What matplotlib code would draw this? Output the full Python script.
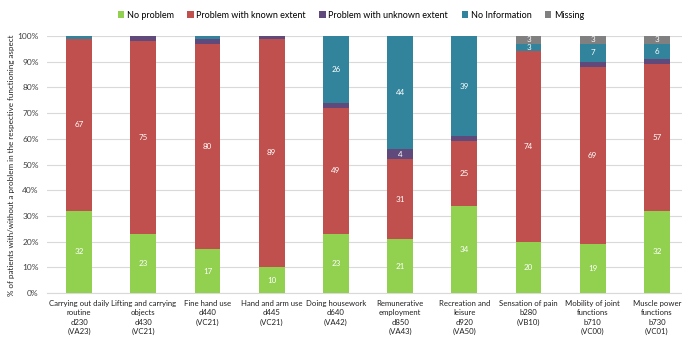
import matplotlib
matplotlib.use("Agg")
import matplotlib.pyplot as plt
import numpy as np

plt.rcParams['font.family'] = ['Lato', 'DejaVu Sans']

categories = [
    "Carrying out daily\nroutine\nd230\n(VA23)",
    "Lifting and carrying\nobjects\nd430\n(VC21)",
    "Fine hand use\nd440\n(VC21)",
    "Hand and arm use\nd445\n(VC21)",
    "Doing housework\nd640\n(VA42)",
    "Remunerative\nemployment\nd850\n(VA43)",
    "Recreation and\nleisure\nd920\n(VA50)",
    "Sensation of pain\nb280\n(VB10)",
    "Mobility of joint\nfunctions\nb710\n(VC00)",
    "Muscle power\nfunctions\nb730\n(VC01)",
]

no_problem = [32, 23, 17, 10, 23, 21, 34, 20, 19, 32]
known_extent = [67, 75, 80, 89, 49, 31, 25, 74, 69, 57]
unknown_extent = [0, 2, 2, 1, 2, 4, 2, 0, 2, 2]
no_information = [1, 0, 1, 0, 26, 44, 39, 3, 7, 6]
missing = [0, 0, 0, 0, 0, 0, 0, 3, 3, 3]

series = [
    ("No problem", no_problem, "#92D050"),
    ("Problem with known extent", known_extent, "#C0504D"),
    ("Problem with unknown extent", unknown_extent, "#604A7B"),
    ("No Information", no_information, "#31849B"),
    ("Missing", missing, "#808080"),
]

fig = plt.figure(figsize=(6.82, 3.43), dpi=100)
ax = fig.add_axes([47 / 682, 1 - 293 / 343, 1 - 47 / 682, (293 - 36) / 343])

x = np.arange(len(categories))
bottom = np.zeros(len(categories))
handles = []
for name, vals, color in series:
    vals = np.array(vals, dtype=float)
    bars = ax.bar(x, vals, width=0.4, bottom=bottom, color=color, label=name, zorder=3)
    handles.append(bars)
    for xi, b, v in zip(x, bottom, vals):
        if v >= 3:
            ax.text(xi, b + v / 2, f"{int(v)}", ha="center", va="center",
                    color="white", fontsize=5.8, zorder=4)
    bottom += vals

ax.set_xlim(-0.5, -0.5 + (682 - 47) / 64.2)
ax.set_ylim(0, 100)
ax.set_yticks(np.arange(0, 101, 10))
ax.set_yticklabels([f"{v}%" for v in range(0, 101, 10)], fontsize=6, color="#404040")
ax.set_xticks(x)
ax.set_xticklabels(categories, fontsize=5.6, color="#202020", linespacing=1.4)
ax.tick_params(axis="y", length=0, pad=6)
ax.tick_params(axis="x", length=0, pad=5)
ax.grid(axis="y", color="#D9D9D9", linewidth=0.8, zorder=0)
for s in ["top", "right", "left"]:
    ax.spines[s].set_visible(False)
ax.spines["bottom"].set_color("#D9D9D9")
ax.spines["bottom"].set_linewidth(0.8)

fig.text(12 / 682, 1 - 165 / 343,
         "% of patients with/without a problem in the respective functioning aspect",
         rotation=90, ha="center", va="center", fontsize=5.8, color="#202020")

fig.legend(handles=handles, loc="center", bbox_to_anchor=(351 / 682, 1 - 15 / 343),
           ncol=5, frameon=False, fontsize=6.5, handlelength=0.7, handleheight=0.7,
           handletextpad=0.3, columnspacing=1.5)

fig.savefig("out.png", dpi=100)
